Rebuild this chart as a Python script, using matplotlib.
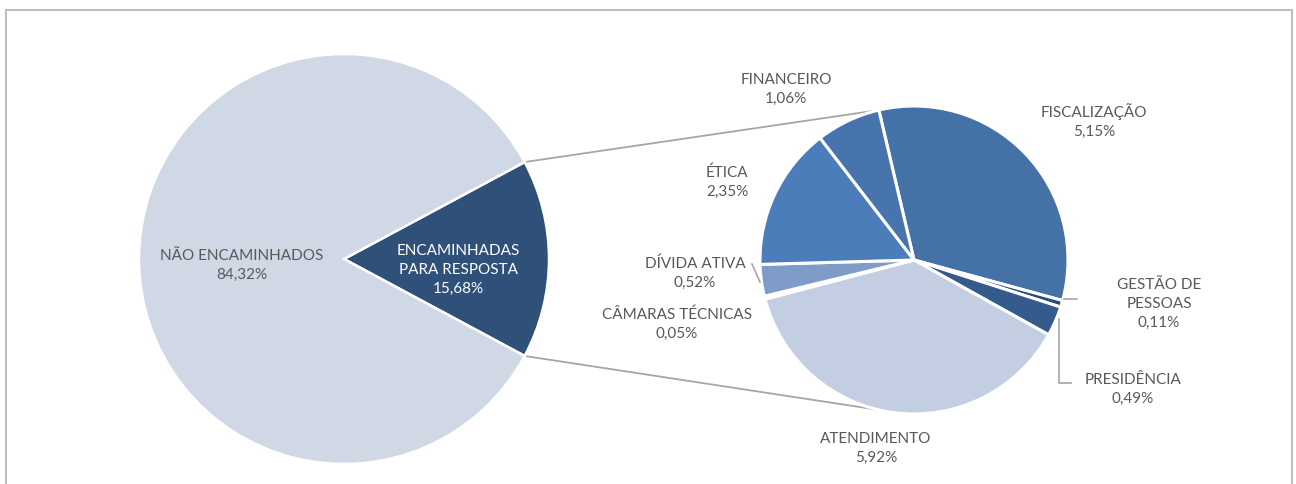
"""
Pie-of-pie: share of manifestations forwarded for reply, broken down by area.
"""
import numpy as np
import matplotlib
matplotlib.use("Agg")
import matplotlib.pyplot as plt
from matplotlib.patches import Rectangle

W, H = 1296, 485

# --- data -----------------------------------------------------------------
main_labels = ["ENCAMINHADAS\nPARA RESPOSTA", "NÃO ENCAMINHADOS"]
main_values = [15.68, 84.32]
main_colors = ["#2F5079", "#D0D8E6"]

# second pie, clockwise from the top connector
sub_labels = ["FISCALIZAÇÃO", "GESTÃO DE\nPESSOAS", "PRESIDÊNCIA", "ATENDIMENTO",
              "CÂMARAS TÉCNICAS", "DÍVIDA ATIVA", "ÉTICA", "FINANCEIRO"]
sub_values = [5.15, 0.11, 0.49, 5.92, 0.05, 0.52, 2.35, 1.06]
sub_colors = ["#4472A7", "#2C4D7C", "#345B8C", "#C4CEE3",
              "#A9B9D8", "#7F9CC9", "#4B7DBB", "#4874AD"]

# --- geometry (pixels, y measured from top of image) ----------------------
C1, R1 = (344, 260), 205
C2, R2 = (914, 261), 154
SUB_START = 103.2

TXT = "#595959"
FONT = ["Lato", "DejaVu Sans"]
FS = 11


def fy(y):
    return H - y


def pct(v):
    return f"{v:.2f}%".replace(".", ",")


fig = plt.figure(figsize=(W / 100, H / 100), dpi=100)
ax = fig.add_axes([0, 0, 1, 1])

half = main_values[0] / sum(main_values) * 360 / 2
ax.pie(main_values, colors=main_colors, startangle=half, counterclock=False,
       center=(C1[0], fy(C1[1])), radius=R1,
       wedgeprops=dict(edgecolor="white", linewidth=1.8))
ax.pie(sub_values, colors=sub_colors, startangle=SUB_START, counterclock=False,
       center=(C2[0], fy(C2[1])), radius=R2,
       wedgeprops=dict(edgecolor="white", linewidth=2.2))

# connector lines between the pies
for s in (1, -1):
    a1 = np.radians(s * half)
    a2 = np.radians(s * SUB_START)
    ax.plot([C1[0] + R1 * np.cos(a1), C2[0] + R2 * np.cos(a2)],
            [fy(C1[1]) + R1 * np.sin(a1), fy(C2[1]) + R2 * np.sin(a2)],
            color="#A6A6A6", lw=1.3, zorder=0)

# labels
ax.text(242, fy(265), f"{main_labels[1]}\n{pct(main_values[1])}", ha="center",
        va="center", color=TXT, fontsize=FS, family=FONT, linespacing=1.45)
ax.text(458, fy(270), f"{main_labels[0]}\n{pct(main_values[0])}", ha="center",
        va="center", color="white", fontsize=FS, family=FONT, linespacing=1.45)

sub_pos = {
    "FISCALIZAÇÃO": (1094, 121),
    "GESTÃO DE\nPESSOAS": (1159, 304),
    "PRESIDÊNCIA": (1133, 389),
    "ATENDIMENTO": (876, 448),
    "CÂMARAS TÉCNICAS": (677, 324),
    "DÍVIDA ATIVA": (695, 273),
    "ÉTICA": (727, 182),
    "FINANCEIRO": (786, 89),
}
for lab, v in zip(sub_labels, sub_values):
    x, y = sub_pos[lab]
    ax.text(x, fy(y), f"{lab}\n{pct(v)}", ha="center", va="center", color=TXT,
            fontsize=FS, family=FONT, linespacing=1.45)

# leader lines
lead = "#A6A6A6"
ax.plot([1064, 1077], [fy(300), fy(300)], color=lead, lw=1.2)
ax.plot([1059, 1059, 1071], [fy(320), fy(384), fy(384)], color=lead, lw=1.2)
ax.plot([752, 760], [fy(265), fy(283)], color=lead, lw=1.2)

ax.set_xlim(0, W)
ax.set_ylim(0, H)
ax.set_aspect("equal")
ax.axis("off")

fig.patches.append(Rectangle((6 / W, -0.05), (1292 - 6) / W, (H - 11) / H + 0.05,
                             transform=fig.transFigure, fill=False,
                             edgecolor="#BFBFBF", lw=1.5))

fig.savefig("out.png", dpi=100)
